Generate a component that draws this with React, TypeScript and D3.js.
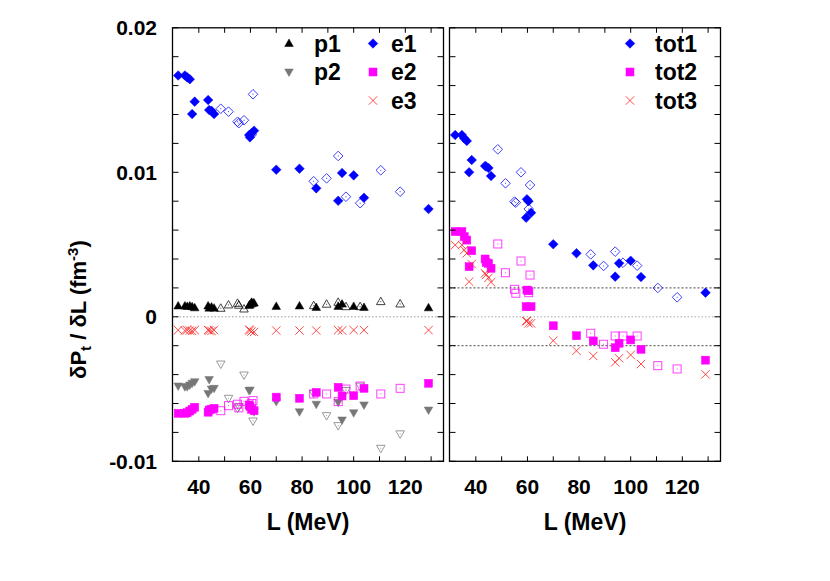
import React from "react";
import * as d3 from "d3";

// L values (MeV) of the models drawn with filled symbols
const L_FILLED = [32, 34.6, 35.5, 36.5, 37.4, 38.4, 43.6, 44, 44.9, 45.9, 59.5, 59.8, 60.4, 61.4, 70, 79, 85.5, 94, 95.5, 100, 104, 129];
// L values (MeV) of the models drawn with open symbols
const L_OPEN = [48.5, 51.5, 55, 55.5, 57.5, 60.5, 61, 84.5, 89.5, 94, 97, 102.5, 110.5, 118];

// left panel, filled
const P1_F = [0.00075, 0.00075, 0.00072, 0.00075, 0.0007, 0.00062, 0.00075, 0.0006, 0.00068, 0.0006, 0.00078, 0.00085, 0.001, 0.00095, 0.00072, 0.00075, 0.00065, 0.00072, 0.00088, 0.00072, 0.00065, 0.00062];
const P2_F = [-0.00479, -0.00484, -0.00484, -0.00472, -0.0046, -0.00449, -0.0053, -0.00434, -0.005, -0.00495, -0.0051, -0.00507, -0.00645, -0.00657, -0.00587, -0.00657, -0.00605, -0.00591, -0.00714, -0.00664, -0.0061, -0.00645];
const E1_F = [0.0167, 0.0167, 0.01657, 0.01644, 0.01403, 0.01489, 0.015, 0.01431, 0.01426, 0.01403, 0.01258, 0.01242, 0.0127, 0.01288, 0.01018, 0.01025, 0.00889, 0.00803, 0.00995, 0.00979, 0.00824, 0.00746];
const E2_F = [-0.00668, -0.00668, -0.00664, -0.00652, -0.0064, -0.00626, -0.0066, -0.00645, -0.0064, -0.00633, -0.0061, -0.0062, -0.0064, -0.0065, -0.00556, -0.00564, -0.00523, -0.00488, -0.00548, -0.00546, -0.00495, -0.0046];
const E3_F = [-0.00092, -0.00095, -0.00092, -0.00095, -0.00098, -0.00092, -0.00092, -0.00095, -0.00098, -0.00092, -0.00088, -0.00095, -0.00102, -0.00105, -0.00095, -0.00095, -0.00095, -0.00092, -0.00095, -0.00092, -0.00092, -0.00092];
// left panel, open
const P1_O = [0.00059, 0.00082, 0.00093, 0.0008, 0.00054, 0.0009, 0.00095, 0.00077, 0.00087, 0.001, 0.0007, 0.0007, 0.00105, 0.00089];
const P2_O = [-0.00327, -0.00564, -0.00633, -0.0062, -0.00403, -0.0065, -0.00721, -0.0053, -0.00684, -0.00753, -0.0051, -0.0048, -0.0091, -0.0081];
const E1_O = [0.0144, 0.0142, 0.0135, 0.0134, 0.0136, 0.0126, 0.0154, 0.00938, 0.00958, 0.01113, 0.00831, 0.00786, 0.01014, 0.00866];
const E2_O = [-0.0065, -0.00615, -0.00605, -0.0063, -0.00585, -0.006, -0.0058, -0.00534, -0.00534, -0.00587, -0.005, -0.00479, -0.00534, -0.00495];
// right panel, filled
const TOT1_F = [0.01258, 0.01258, 0.01235, 0.01217, 0.01, 0.01085, 0.01044, 0.0104, 0.0103, 0.00974, 0.00686, 0.00813, 0.008, 0.0072, 0.00502, 0.0044, 0.00356, 0.00278, 0.0037, 0.00388, 0.00275, 0.00167];
const TOT2_F = [0.0059, 0.0059, 0.00555, 0.00531, 0.00347, 0.00457, 0.004, 0.00375, 0.0037, 0.00336, 0.0007, 0.00185, 0.0018, 0.0007, -0.00062, -0.00131, -0.00167, -0.00214, -0.00183, -0.0016, -0.00225, -0.003];
const TOT3_F = [0.00497, 0.00497, 0.00462, 0.0044, 0.00243, 0.00365, 0.00301, 0.0029, 0.0027, 0.00239, -0.00029, -0.0003, -0.00045, -0.00045, -0.00165, -0.00235, -0.00271, -0.00315, -0.00287, -0.00264, -0.00327, -0.00398];
// right panel, open
const TOT1_O = [0.01159, 0.00924, 0.00797, 0.0079, 0.01, 0.00746, 0.00912, 0.00432, 0.00352, 0.00451, 0.00374, 0.00354, 0.002, 0.00135];
const TOT2_O = [0.00504, 0.00305, 0.0019, 0.00163, 0.00386, 0.00167, 0.00289, -0.00114, -0.0019, -0.00133, -0.00133, -0.00133, -0.00338, -0.00361];

const X_TICKS = [40, 60, 80, 100, 120];
const Y_TICKS = [-0.01, 0, 0.01, 0.02];
const Y_TICK_LABELS = ["-0.01", "0", "0.01", "0.02"];
const LEFT_LEGEND = [["p1", "triUp"], ["p2", "triDown"], ["e1", "diamond"], ["e2", "square"], ["e3", "cross"]];
const RIGHT_LEGEND = [["tot1", "diamond"], ["tot2", "square"], ["tot3", "cross"]];

const FONT = "'Liberation Sans', Arial, Helvetica, sans-serif";
const BLUE = "#0000ff";
const MAG = "#ff00ff";
const RED = "#ff2a2a";
const GRAY = "#777777";

type Kind = "diamond" | "square" | "triUp" | "triDown" | "cross";

function Marker({ kind, x, y, open }: { kind: Kind; x: number; y: number; open?: boolean }) {
  const color = kind === "diamond" ? BLUE : kind === "square" ? MAG : kind === "cross" ? RED : kind === "triUp" ? "#000" : GRAY;
  const fill = open ? "none" : color;
  const stroke = color;
  const sw = open ? 1 : 0.5;
  const op = open ? 0.75 : 1;
  let shape: React.ReactNode = null;
  if (kind === "diamond") {
    const r = 4.8;
    shape = <path d={`M${x},${y - r}L${x + r},${y}L${x},${y + r}L${x - r},${y}Z`} fill={fill} stroke={stroke} strokeWidth={sw} />;
  } else if (kind === "square") {
    const r = 4;
    shape = <rect x={x - r} y={y - r} width={2 * r} height={2 * r} fill={fill} stroke={stroke} strokeWidth={sw} />;
  } else if (kind === "triUp") {
    shape = <path d={`M${x},${y - 4.5}L${x + 4.3},${y + 3}L${x - 4.3},${y + 3}Z`} fill={fill} stroke={stroke} strokeWidth={sw} />;
  } else if (kind === "triDown") {
    shape = <path d={`M${x},${y + 4.5}L${x + 4.3},${y - 3}L${x - 4.3},${y - 3}Z`} fill={fill} stroke={stroke} strokeWidth={sw} />;
  } else {
    const r = 4.2;
    shape = <path d={`M${x - r},${y - r}L${x + r},${y + r}M${x - r},${y + r}L${x + r},${y - r}`} stroke={RED} strokeWidth={1} fill="none" opacity={0.85} />;
  }
  return (
    <g opacity={op}>
      {shape}
      {open && <rect x={x - 0.5} y={y - 0.5} width={1} height={1} fill={color} />}
    </g>
  );
}

const TOP = 27.8, BOTTOM = 461.3;
const LEFT_X0 = 172.5, LEFT_X1 = 443.5;
const RIGHT_X0 = 449.5, RIGHT_X1 = 720.5;
const L_DOMAIN: [number, number] = [29.8, 134.8];

function Panel({ x0, x1, series, hlines, legendCols }: any) {
  const xs = d3.scaleLinear().domain(L_DOMAIN).range([x0, x1]);
  const ys = d3.scaleLinear().domain([-0.01, 0.02]).range([BOTTOM, TOP]);
  const minorX = d3.range(40, 131, 10);
  const minorY = d3.range(-0.01, 0.0201, 0.002);
  return (
    <g>
      {hlines.map((h: any, i: number) => (
        <line key={i} x1={x0} x2={x1} y1={ys(h.v)} y2={ys(h.v)} stroke={h.c} strokeWidth={1} strokeDasharray={h.d} />
      ))}
      {series.map((s: any, si: number) =>
        s.vals.map((v: number, i: number) => (
          <Marker key={si + "-" + i} kind={s.kind} x={xs(s.L[i])} y={ys(v)} open={s.open} />
        ))
      )}
      <rect x={x0} y={TOP} width={x1 - x0} height={BOTTOM - TOP} fill="none" stroke="#000" strokeWidth={1.3} />
      {minorX.map((t) => (
        <g key={"xt" + t}>
          <line x1={xs(t)} x2={xs(t)} y1={BOTTOM} y2={BOTTOM - 5} stroke="#000" strokeWidth={1} />
          <line x1={xs(t)} x2={xs(t)} y1={TOP} y2={TOP + 5} stroke="#000" strokeWidth={1} />
        </g>
      ))}
      {minorY.map((t, i) => (
        <g key={"yt" + i}>
          <line x1={x0} x2={x0 + 6} y1={ys(t)} y2={ys(t)} stroke="#000" strokeWidth={1} />
          <line x1={x1} x2={x1 - 6} y1={ys(t)} y2={ys(t)} stroke="#000" strokeWidth={1} />
        </g>
      ))}
      {X_TICKS.map((t) => (
        <text key={"xl" + t} x={xs(t)} y={494.2} textAnchor="middle" fontFamily={FONT} fontWeight="bold" fontSize={21}>
          {t}
        </text>
      ))}
      <text x={(x0 + x1) / 2} y={530} textAnchor="middle" fontFamily={FONT} fontWeight="bold" fontSize={23}>
        L (MeV)
      </text>
      {legendCols.map((col: any, ci: number) =>
        col.items.map((it: any, ri: number) => (
          <g key={"lg" + ci + "-" + ri}>
            <Marker kind={it[1]} x={col.mx} y={43.5 + ri * 28.5} />
            <text x={col.tx} y={43.5 + ri * 28.5 + 8} fontFamily={FONT} fontWeight="bold" fontSize={23}>
              {it[0]}
            </text>
          </g>
        ))
      )}
    </g>
  );
}

export default function App() {
  const ys = d3.scaleLinear().domain([-0.01, 0.02]).range([BOTTOM, TOP]);
  const leftSeries = [
    { L: L_FILLED, vals: P1_F, kind: "triUp" },
    { L: L_OPEN, vals: P1_O, kind: "triUp", open: true },
    { L: L_FILLED, vals: E3_F, kind: "cross" },
    { L: L_OPEN, vals: P2_O, kind: "triDown", open: true },
    { L: L_FILLED, vals: P2_F, kind: "triDown" },
    { L: L_OPEN, vals: E2_O, kind: "square", open: true },
    { L: L_FILLED, vals: E2_F, kind: "square" },
    { L: L_OPEN, vals: E1_O, kind: "diamond", open: true },
    { L: L_FILLED, vals: E1_F, kind: "diamond" },
  ];
  const rightSeries = [
    { L: L_OPEN, vals: TOT2_O, kind: "square", open: true },
    { L: L_FILLED, vals: TOT2_F, kind: "square" },
    { L: L_FILLED, vals: TOT3_F, kind: "cross" },
    { L: L_OPEN, vals: TOT1_O, kind: "diamond", open: true },
    { L: L_FILLED, vals: TOT1_F, kind: "diamond" },
  ];
  return (
    <svg width={830} height={581} style={{ display: "block", position: "absolute", left: 0, top: 0 }}>
      <rect width={830} height={581} fill="#fff" />
      <Panel
        x0={LEFT_X0}
        x1={LEFT_X1}
        series={leftSeries}
        hlines={[{ v: 0, c: "#999", d: "1.5,2" }]}
        legendCols={[
          { mx: 289, tx: 314, items: LEFT_LEGEND.slice(0, 2) },
          { mx: 373, tx: 391, items: LEFT_LEGEND.slice(2) },
        ]}
      />
      <Panel
        x0={RIGHT_X0}
        x1={RIGHT_X1}
        series={rightSeries}
        hlines={[
          { v: 0, c: "#aaa", d: "1.5,2" },
          { v: 0.002, c: "#444", d: "2,2" },
          { v: -0.002, c: "#444", d: "2,2" },
        ]}
        legendCols={[{ mx: 630, tx: 655, items: RIGHT_LEGEND }]}
      />
      {Y_TICKS.map((t, i) => (
        <text key={"yl" + i} x={157} y={ys(t) + 7.5} textAnchor="end" fontFamily={FONT} fontWeight="bold" fontSize={21}>
          {Y_TICK_LABELS[i]}
        </text>
      ))}
      <text
        transform={`translate(${86},${ys(0.0005)}) rotate(-90)`}
        textAnchor="middle"
        fontFamily={FONT}
        fontWeight="bold"
        fontSize={22}
      >
        δP<tspan dy={5} fontSize={15}>t</tspan>
        <tspan dy={-5}> / δL (fm</tspan>
        <tspan dy={-8} fontSize={15}>-3</tspan>
        <tspan dy={8}>)</tspan>
      </text>
    </svg>
  );
}
